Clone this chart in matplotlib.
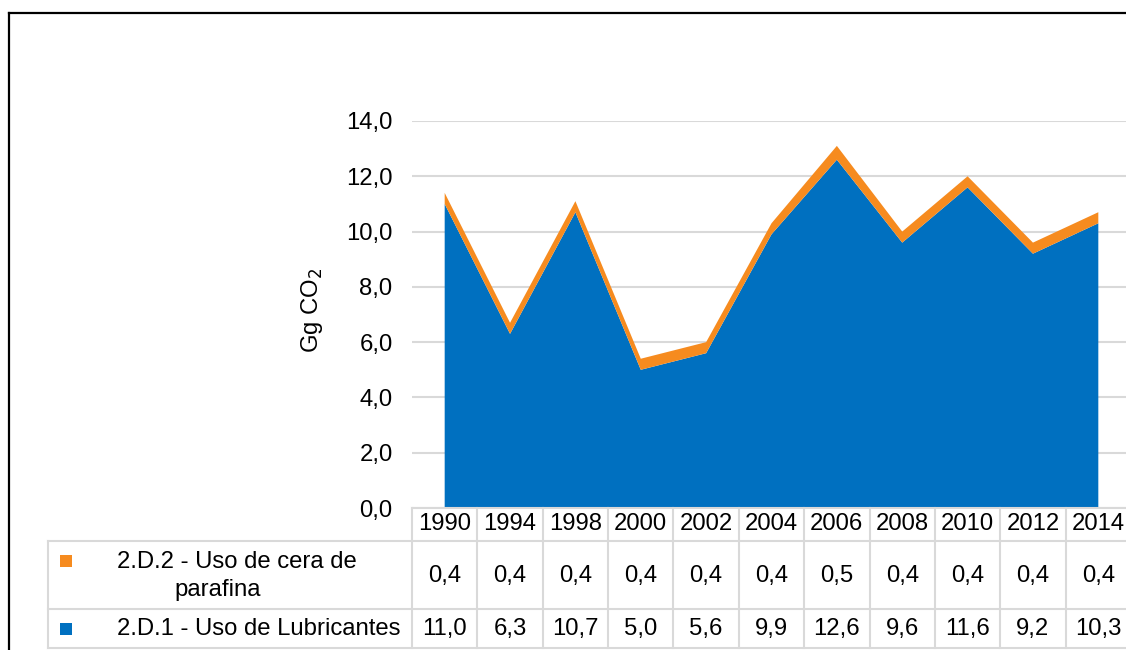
import numpy as np
import matplotlib.pyplot as plt
from matplotlib.lines import Line2D
from matplotlib.patches import Rectangle
from matplotlib.ticker import FuncFormatter
from matplotlib.transforms import blended_transform_factory

plt.rcParams['font.family'] = ['Liberation Sans', 'DejaVu Sans']

years = ['1990', '1994', '1998', '2000', '2002', '2004', '2006', '2008', '2010', '2012', '2014']
lubricantes = [11.0, 6.3, 10.7, 5.0, 5.6, 9.9, 12.6, 9.6, 11.6, 9.2, 10.3]
parafina = [0.4, 0.4, 0.4, 0.4, 0.4, 0.4, 0.5, 0.4, 0.4, 0.4, 0.4]

label_lub = '2.D.1 - Uso de Lubricantes'
label_par_1 = '2.D.2 - Uso de cera de'
label_par_2 = 'parafina'

blue = '#0070C0'
orange = '#F68B1F'
grid_col = '#D9D9D9'
fs = 17.2


def fmt(v):
    return f'{v:.1f}'.replace('.', ',')


W, H = 1126, 650
fig = plt.figure(figsize=(W / 100, H / 100), dpi=100)

# plot area in pixel terms: left 412, bottom 508, top 121, 11 columns of ~65.4 px
ax = fig.add_axes([412 / W, (H - 508) / H, 719 / W, 387 / H])
x = np.arange(len(years))
ax.stackplot(x, lubricantes, parafina, colors=[blue, orange], linewidth=0, zorder=2)
ax.set_xlim(-0.5, len(years) - 0.5)
ax.set_ylim(0, 14)
ax.set_yticks(np.arange(0, 15, 2))
ax.yaxis.set_major_formatter(FuncFormatter(lambda v, p: fmt(v)))
ax.tick_params(axis='y', length=0, pad=14, labelsize=fs)
ax.set_xticks([])
ax.grid(axis='y', color=grid_col, linewidth=1.5, zorder=0)
ax.set_axisbelow(True)
for s in ax.spines.values():
    s.set_visible(False)

fig.text(312 / W, 1 - 310 / H, 'Gg CO$_2$', rotation=90, ha='center', va='center', fontsize=fs)


# data table under the plot
def ay(py):
    return (508 - py) / 387


tx = ax.get_xaxis_transform()
tf = blended_transform_factory(fig.transFigure, ax.transAxes)
y_head, y_r1, y_r2, y_bot = ay(508), ay(541), ay(609), ay(648)
lw = 1.5

edges = np.arange(len(years) + 1) - 0.5
for e in edges:
    ax.add_line(Line2D([e, e], [y_head, y_bot], transform=tx, color=grid_col, lw=lw, clip_on=False))
ax.add_line(Line2D([edges[0], edges[-1]], [y_head, y_head], transform=tx, color=grid_col, lw=lw, clip_on=False))
for yy in (y_r1, y_r2, y_bot):
    ax.add_line(Line2D([48 / W, 1.0], [yy, yy], transform=tf, color=grid_col, lw=lw, clip_on=False))
ax.add_line(Line2D([48 / W, 48 / W], [y_r1, y_bot], transform=tf, color=grid_col, lw=lw, clip_on=False))

for i, yr in enumerate(years):
    ax.text(i, ay(524), yr, transform=tx, ha='center', va='center', fontsize=fs, clip_on=False)
    ax.text(i, ay(576), fmt(parafina[i]), transform=tx, ha='center', va='center', fontsize=fs, clip_on=False)
    ax.text(i, ay(629), fmt(lubricantes[i]), transform=tx, ha='center', va='center', fontsize=fs, clip_on=False)

# row labels with legend keys
ax.text(117 / W, ay(562), label_par_1, transform=tf, ha='left', va='center', fontsize=fs, clip_on=False)
ax.text(174 / W, ay(590), label_par_2, transform=tf, ha='left', va='center', fontsize=fs, clip_on=False)
ax.text(117 / W, ay(629), label_lub, transform=tf, ha='left', va='center', fontsize=fs, clip_on=False)
for col, py in ((orange, 561), (blue, 629)):
    fig.add_artist(Rectangle((60 / W, 1 - (py + 6) / H), 12 / W, 12 / H, transform=fig.transFigure,
                             facecolor=col, edgecolor='none'))

# outer frame
fig.add_artist(Line2D([9 / W, 9 / W], [0, 1 - 13 / H], transform=fig.transFigure, color='black', lw=1.6))
fig.add_artist(Line2D([9 / W, 1], [1 - 13 / H, 1 - 13 / H], transform=fig.transFigure, color='black', lw=1.6))

fig.savefig('out.png', dpi=100, facecolor='white')
